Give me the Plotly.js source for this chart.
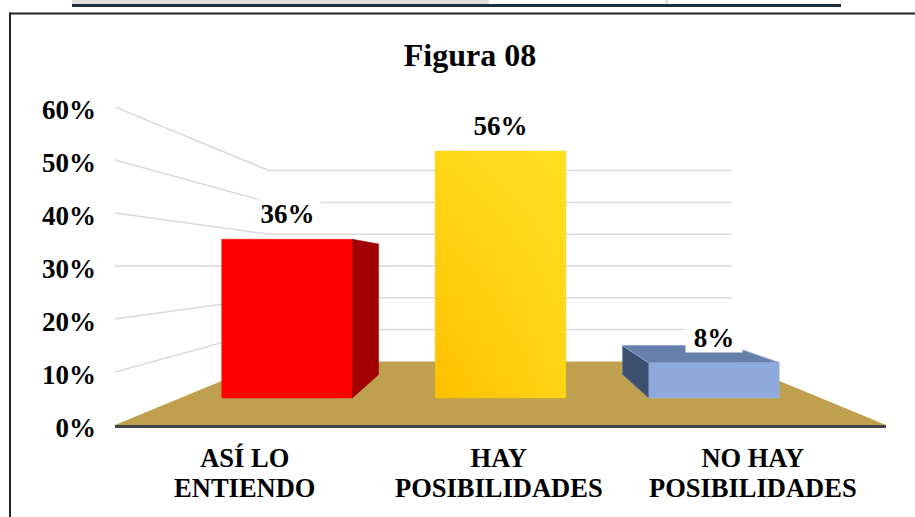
<!DOCTYPE html>
<html><head><meta charset="utf-8">
<script src="https://cdn.plot.ly/plotly-3.0.1.min.js"></script>
<style>html,body{margin:0;padding:0;background:#fff;overflow:hidden}</style>
</head><body><div id="chart" style="width:915px;height:517px"></div>
<script>
const categoriesLine1 = ['ASÍ LO', 'HAY', 'NO HAY'];
const categoriesLine2 = ['ENTIENDO', 'POSIBILIDADES', 'POSIBILIDADES'];
const values = [36, 56, 8];
const valueLabels = ['36%', '56%', '8%'];
const yTicks = [0, 10, 20, 30, 40, 50, 60];
const yTickLabels = ['0%', '10%', '20%', '30%', '40%', '50%', '60%'];
const frontColors = ['#FF0000', '#FFC000', '#8EA9DB'];
const edgeColors = ['#FF0000', '#EDBE1A', '#A3BAE4'];
const sideColors = ['#A00000', '#BF9000', '#3C4F6F'];
const topColor = '#667FAB';

const FONT = 'Liberation Serif, Times New Roman, serif';
const xPos = values.map((_, i) => i);
const BAR_W = 0.612, XMIN = -0.806, XMAX = 2.806;
const VPX = 1, VPY_BAR = 30, VPY_AXIS = 30;
const K_BAR = 0.823, K_WALL = 0.6, K_FRONT = 1.19;
const backX = (x, k) => VPX + (x - VPX) * k;
const backY = (v, vp, k) => vp + (v - vp) * k;
const frontTicks = xPos.map(x => backX(x, K_FRONT) - 0.008);

const traces = [];
// floor
traces.push({type:'scatter', mode:'lines', xaxis:'x', yaxis:'y', hoverinfo:'skip', showlegend:false,
  x:[XMIN, XMAX, backX(XMAX,K_WALL), backX(XMIN,K_WALL), XMIN],
  y:[0, 0, backY(0,VPY_AXIS,K_WALL), backY(0,VPY_AXIS,K_WALL), 0],
  fill:'toself', fillcolor:'#BFA04F', line:{width:0, color:'#BFA04F'}});
// gridlines: front edge to back wall
yTicks.slice(1).forEach(v => {
  const b = backY(v, VPY_AXIS, K_WALL);
  traces.push({type:'scatter', mode:'lines', xaxis:'x', yaxis:'y', hoverinfo:'skip', showlegend:false,
    x:[XMIN, backX(XMIN,K_WALL), backX(XMAX,K_WALL)], y:[v, b, b],
    line:{color:'#D9D9D9', width:1.5}});
});
// carrier for the second line of category labels
traces.push({type:'scatter', mode:'markers', xaxis:'x2', yaxis:'y', hoverinfo:'skip', showlegend:false,
  x:[0], y:[0], marker:{size:1, opacity:0}});
// bar fronts
traces.push({type:'bar', xaxis:'x', yaxis:'y2', x:xPos, y:values, width:BAR_W, hoverinfo:'skip', showlegend:false,
  marker:{color:frontColors, line:{color:edgeColors, width:0.5}}});
// 3D faces
values.forEach((v, i) => {
  const l = i - BAR_W/2, r = i + BAR_W/2;
  const edge = (i < VPX) ? r : l;
  if (i !== VPX) {
    traces.push({type:'scatter', mode:'lines', xaxis:'x', yaxis:'y2', hoverinfo:'skip', showlegend:false,
      x:[edge, backX(edge,K_BAR), backX(edge,K_BAR), edge, edge],
      y:[v, backY(v,VPY_BAR,K_BAR), backY(0,VPY_BAR,K_BAR), 0, v],
      fill:'toself', fillcolor:sideColors[i], line:{width:0.5, color:i===2?'#6F88B5':sideColors[i]}});
  }
  if (v < VPY_BAR) {
    const by = backY(v,VPY_BAR,K_BAR);
    traces.push({type:'scatter', mode:'lines', xaxis:'x', yaxis:'y2', hoverinfo:'skip', showlegend:false,
      x:[l, backX(l,K_BAR), backX(r,K_BAR), r, l], y:[v, by, by, v, v],
      fill:'toself', fillcolor:topColor, line:{width:1, color:'#8EA5D2'}});
  }
});
// gradient sheen on the middle bar
const gl = 1 - BAR_W/2, gr = 1 + BAR_W/2;
[['horizontal', 0.5], ['vertical', 0.6]].forEach(([type, a]) => {
  traces.push({type:'scatter', mode:'lines', xaxis:'x', yaxis:'y2', hoverinfo:'skip', showlegend:false,
    x:[gl, gr, gr, gl, gl], y:[0, 0, values[1], values[1], 0],
    fill:'toself', line:{width:0, color:'rgba(0,0,0,0)'}, 
    fillgradient:{type:type, colorscale:[[0,'rgba(255,232,40,0)'],[1,'rgba(255,232,40,'+a+')']]}});
});

const L = 115, R = 886, T = 107, B = 425;
const px = v => (v - L) / (R - L), py = v => (B - v) / (B - T);
const rect = (x0, y0, x1, y1, c) => ({type:'rect', xref:'paper', yref:'paper', layer:'above',
  x0:px(x0), x1:px(x1), y0:py(y0), y1:py(y1), fillcolor:c, line:{width:0}});

const boldFont = {family:FONT, size:27, color:'#000', weight:700};
const catFont = {family:FONT, size:26.5, color:'#000', weight:700};
const layout = {
  width:915, height:517, autosize:false, showlegend:false, barmode:'overlay',
  paper_bgcolor:'#fff', plot_bgcolor:'rgba(0,0,0,0)',
  margin:{l:L, r:915-R, t:T, b:517-B, pad:0},
  title:{text:'Figura 08', font:{family:FONT, size:32, color:'#000', weight:700},
         xref:'paper', x:px(470), xanchor:'center', yref:'container', y:1-55/517, yanchor:'middle'},
  xaxis:{range:[XMIN,XMAX], tickmode:'array', tickvals:frontTicks, ticktext:categoriesLine1, tickfont:catFont,
         ticks:'', ticklen:0, ticklabelstandoff:7, showgrid:false, zeroline:false,
         showline:true, linecolor:'#45434E', linewidth:3, anchor:'y', tickangle:0},
  xaxis2:{range:[XMIN,XMAX], tickmode:'array', tickvals:frontTicks, ticktext:categoriesLine2, tickfont:catFont,
         ticks:'', ticklen:0, ticklabelstandoff:44, showgrid:false, zeroline:false,
         overlaying:'x', anchor:'y', side:'bottom', tickangle:0},
  yaxis:{range:[0,60], tickmode:'array', tickvals:yTicks, ticktext:yTickLabels, tickfont:boldFont,
         ticks:'', ticklen:0, ticklabelstandoff:18, ticklabelshift:3, showgrid:false, zeroline:false, showline:false},
  yaxis2:{range:[-6.122,65.99], overlaying:'y', visible:false, showgrid:false, zeroline:false},
  annotations: values.map((v, i) => ({xref:'x', yref:'y2', x:i, y:v, text:valueLabels[i], showarrow:false,
    font:boldFont, bgcolor:'#fff', xanchor:'center', yanchor:'middle', yshift:25,
    width:i===2?56:65, height:28, align:'center', valign:'middle', borderpad:0})),
  shapes:[
    rect(72,0,489,4,'#E0E0E0'),
    rect(665.5,0,668,4,'#DDDDDD'),
    rect(72,4,841,7,'#1A2E3E'),
    rect(840,0,841.5,4,'#E4E4E4'),
    rect(9,12.5,915,14.5,'#1E2226'),
    rect(9,12.5,11,517,'#1E2226')
  ]
};
Plotly.newPlot('chart', traces, layout, {displayModeBar:false, staticPlot:true});
</script></body></html>
